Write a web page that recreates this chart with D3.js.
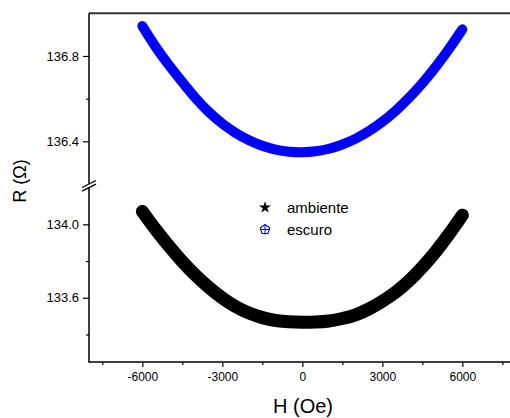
<!DOCTYPE html>
<html>
<head>
<meta charset="utf-8">
<script src="https://cdn.jsdelivr.net/npm/d3@7"></script>
<style>
  html, body { margin: 0; padding: 0; background: #fff; }
  svg { display: block; }
  text { font-family: "Liberation Sans", Arial, sans-serif; fill: #000; }
</style>
</head>
<body>
<svg id="chart" width="510" height="418"></svg>
<script>
// ---- data ----
const fieldH = [-6000, -5500, -5000, -4500, -4000, -3500, -3000, -2500, -2000, -1500, -1000, -500, 0,
                 500, 1000, 1500, 2000, 2500, 3000, 3500, 4000, 4500, 5000, 5500, 6000];
const ambiente = [134.07, 133.97, 133.88, 133.795, 133.72, 133.655, 133.597, 133.55, 133.515, 133.49, 133.475, 133.468, 133.466,
                  133.467, 133.472, 133.486, 133.505, 133.538, 133.58, 133.628, 133.69, 133.765, 133.85, 133.945, 134.05];
const escuro = [136.94, 136.84, 136.755, 136.677, 136.6, 136.535, 136.481, 136.438, 136.404, 136.378, 136.36, 136.35, 136.348,
                136.352, 136.364, 136.384, 136.411, 136.447, 136.49, 136.542, 136.603, 136.671, 136.748, 136.832, 136.925];
const xMajorTicks = [-6000, -3000, 0, 3000, 6000];
const xMinorTicks = [-7500, -4500, -1500, 1500, 4500, 7500];
const yTopMajor = [136.4, 136.8];
const yTopMinor = [136.6];
const yBotMajor = [133.6, 134.0];
const yBotMinor = [133.4, 133.8];
const seriesNames = ["ambiente", "escuro"];

// ---- layout ----
const svg = d3.select("#chart");
const x = d3.scaleLinear().domain([-8000, 8000]).range([89, 515.7]);
const yTop = d3.scaleLinear().domain([136.2, 137.0]).range([184.0, 13.3]);
const yBot = d3.scaleLinear().domain([133.25, 134.2]).range([362, 187.6]);
const x0 = 89, yBottom = 362, yTopEdge = 13.3;

// top frame line
svg.append("line").attr("x1", x0).attr("x2", 510).attr("y1", yTopEdge).attr("y2", yTopEdge)
  .attr("stroke", "#333").attr("stroke-width", 2);

// x axis
const gx = svg.append("g").attr("transform", `translate(0,${yBottom})`);
gx.call(d3.axisBottom(x).tickValues(xMajorTicks).tickSize(5).tickPadding(4).tickFormat(d => String(d)));
gx.append("g").call(d3.axisBottom(x).tickValues(xMinorTicks).tickSize(3).tickFormat(""));
gx.selectAll(".domain").remove();
gx.append("line").attr("x1", x0).attr("x2", 510).attr("stroke", "#000").attr("stroke-width", 1.5);
gx.selectAll(".tick line").attr("stroke", "#000").attr("stroke-width", 1.2);
gx.selectAll(".tick text").attr("font-size", 12).attr("font-family", "Liberation Sans, Arial, sans-serif").attr("dy", "0.85em");

// y axes (top + bottom segment)
function yAxis(scale, major, minor) {
  const g = svg.append("g").attr("transform", `translate(${x0},0)`);
  g.call(d3.axisLeft(scale).tickValues(major).tickSize(6).tickPadding(4).tickFormat(d3.format(".1f")));
  g.append("g").call(d3.axisLeft(scale).tickValues(minor).tickSize(3).tickFormat(""));
  g.selectAll(".domain").remove();
  g.selectAll(".tick line").attr("stroke", "#000").attr("stroke-width", 1.2);
  g.selectAll(".tick text").attr("font-size", 13).attr("font-family", "Liberation Sans, Arial, sans-serif");
  return g;
}
yAxis(yTop, yTopMajor, yTopMinor);
yAxis(yBot, yBotMajor, yBotMinor);
// axis line segments
svg.append("line").attr("x1", x0).attr("x2", x0).attr("y1", yTopEdge).attr("y2", yTop(136.2))
  .attr("stroke", "#000").attr("stroke-width", 1.5);
svg.append("line").attr("x1", x0).attr("x2", x0).attr("y1", yBot(134.2)).attr("y2", yBottom + 0.75)
  .attr("stroke", "#000").attr("stroke-width", 1.5);
// break marks
[yTop(136.2), yBot(134.2)].forEach(yy => {
  svg.append("line").attr("x1", x0 - 7).attr("y1", yy + 3.5).attr("x2", x0 + 7).attr("y2", yy - 3.5)
    .attr("stroke", "#000").attr("stroke-width", 1.3);
});

// curves
const pts = (vals) => fieldH.map((h, i) => [h, vals[i]]);
const lineTop = d3.line().x(d => x(d[0])).y(d => yTop(d[1])).curve(d3.curveBasis);
const lineBot = d3.line().x(d => x(d[0])).y(d => yBot(d[1])).curve(d3.curveBasis);
svg.append("path").attr("d", lineBot(pts(ambiente))).attr("fill", "none")
  .attr("stroke", "#000").attr("stroke-width", 13).attr("stroke-linecap", "round").attr("stroke-linejoin", "round");
svg.append("path").attr("d", lineTop(pts(escuro))).attr("fill", "none")
  .attr("stroke", "#0000ff").attr("stroke-width", 10).attr("stroke-linecap", "round").attr("stroke-linejoin", "round");

// legend
const leg = svg.append("g");
leg.append("path").attr("d", d3.symbol().type(d3.symbolStar).size(45)())
  .attr("transform", "translate(265,207.5)").attr("fill", "#000");
const pent = d3.range(5).map(i => {
  const a = -Math.PI / 2 + i * 2 * Math.PI / 5;
  return [265 + 5 * Math.cos(a), 229.5 + 5 * Math.sin(a)];
});
leg.append("path").attr("d", "M" + pent.map(p => p.join(",")).join("L") + "Z")
  .attr("fill", "none").attr("stroke", "#0000ff").attr("stroke-width", 1.1).attr("stroke-linejoin", "round");
leg.append("line").attr("x1", 260).attr("x2", 270).attr("y1", 229.5).attr("y2", 229.5).attr("stroke", "#0000ff").attr("stroke-width", 1);
leg.append("line").attr("x1", 265).attr("x2", 265).attr("y1", 224.5).attr("y2", 234.5).attr("stroke", "#0000ff").attr("stroke-width", 1);
leg.selectAll("text.leg").data(seriesNames).join("text")
  .attr("x", 287).attr("y", (d, i) => 213 + i * 22)
  .attr("font-size", 15).text(d => d);

// axis titles
svg.append("text").attr("x", 303).attr("y", 413).attr("text-anchor", "middle")
  .attr("font-size", 20).text("H (Oe)");
svg.append("text").attr("transform", "translate(25.5,181) rotate(-90)").attr("text-anchor", "middle")
  .attr("font-size", 18).text("R (Ω)");
</script>
</body>
</html>
